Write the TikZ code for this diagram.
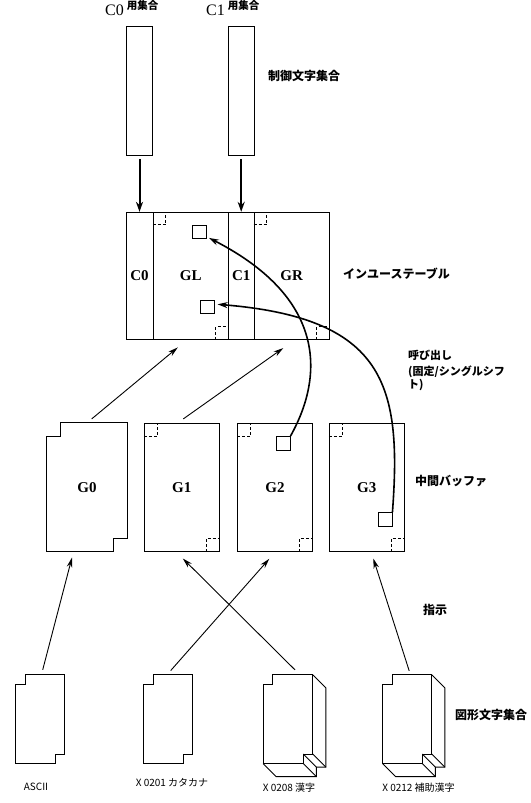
\documentclass[tikz,border=0pt]{standalone}
\usepackage{fontspec}
\setmainfont{Liberation Serif}
\newfontfamily\jp{Noto Sans CJK JP}
\usepackage{tikz}
\usetikzlibrary{arrows.meta, positioning}

% outline of a code table with cut corners
\newcommand{\notched}[2]{%
  \draw[line width=0.9pt] ([xshift=#2]#1.north west) -- (#1.north east) -- ([yshift=#2]#1.south east)
    -- ([shift={(-#2,#2)}]#1.south east) -- ([xshift=-#2]#1.south east)
    -- (#1.south west) -- ([yshift=-#2]#1.north west)
    -- ([shift={(#2,-#2)}]#1.north west) -- cycle;}
% depth of a 94x94 set
\newcommand{\extrude}[1]{%
  \draw[line width=0.9pt] (#1.north east) -- ++(13pt,-13pt)
    -- ([shift={(13pt,-3.5pt)}]#1.south east)
    -- ([shift={(3.5pt,-3.5pt)}]#1.south east)
    -- ([shift={(3.5pt,-13pt)}]#1.south east)
    -- ([shift={(13pt,-13pt)}]#1.south west) -- (#1.south west);
  \draw[line width=0.9pt] ([yshift=9.5pt]#1.south east) -- ++(13pt,-13pt);
  \draw[line width=0.9pt] ([shift={(-9.5pt,9.5pt)}]#1.south east) -- ++(13pt,-13pt);
  \draw[line width=0.9pt] ([xshift=-9.5pt]#1.south east) -- ++(13pt,-13pt);}
% dashed corners
\newcommand{\cornermarks}[2]{%
  \draw[cornermark] ([yshift=-#2]#1.north west) -| ([xshift=#2]#1.north west);
  \draw[cornermark] ([xshift=-#2]#1.south east) |- ([yshift=#2]#1.south east);}

\begin{document}
\begin{tikzpicture}[
    x=1pt, y=-1pt,
    every node/.style={inner sep=0pt},
    colbox/.style={draw, line width=0.9pt, minimum width=26.6pt, minimum height=129pt},
    cell/.style={draw, line width=0.9pt, minimum height=127pt, font=\fontsize{15}{15}\selectfont\bfseries},
    gbuf/.style={draw, line width=0.9pt, minimum width=75pt, minimum height=127.7pt, font=\fontsize{15}{15}\selectfont\bfseries},
    slot/.style={draw, line width=0.9pt, minimum width=14pt, minimum height=13.5pt},
    cset/.style={minimum width=48.5pt, minimum height=88.3pt},
    jlabel/.style={anchor=west, font=\jp\bfseries\fontsize{12}{12}\selectfont},
    setname/.style={font=\jp\fontsize{10}{10}\selectfont},
    cornermark/.style={dash pattern=on 3pt off 2pt, line width=0.8pt},
    arrow/.style={-{Stealth[length=10pt, width=5.5pt]}, line width=0.9pt},
    thickarrow/.style={-{Stealth[length=10pt, width=7pt]}, line width=2pt},
    callarrow/.style={-{Stealth[length=10pt, width=6pt]}, line width=1.6pt}
]
\useasboundingbox (0,0) rectangle (530,803);

% control sets
\node[anchor=base west] (c0set) at (105,16) {\fontsize{16}{16}\selectfont C0\hspace{3pt}\raisebox{6.5pt}{\jp\bfseries\fontsize{10.5}{10.5}\selectfont 用集合}};
\node[anchor=base west] (c1set) at (206,16) {\fontsize{16}{16}\selectfont C1\hspace{3pt}\raisebox{6.5pt}{\jp\bfseries\fontsize{10.5}{10.5}\selectfont 用集合}};
\node[colbox] (col0) at (139.5,90.5) {};
\node[colbox, minimum width=26pt] (col1) at (241.2,90.5) {};
\node[jlabel] (ctrl) at (268,76) {制御文字集合};

% in-use table
\node[cell, minimum width=27pt] (tc0) at (139.5,275.8) {C0};
\node[cell, minimum width=75pt] (tgl) at (190.8,275.8) {GL};
\node[cell, minimum width=25.8pt] (tc1) at (241.2,275.8) {C1};
\node[cell, minimum width=75.3pt] (tgr) at (291.7,275.8) {GR};
\cornermarks{tgl}{13pt}
\cornermarks{tgr}{13pt}
\node[slot] (sq1) at (199.5,231.7) {};
\node[slot] (sq2) at (207.7,306.7) {};
\node[jlabel] (inuse) at (343,274) {インユーステーブル};

\draw[thickarrow, shorten <=4pt] (col0) -- (tc0);
\draw[thickarrow, shorten <=4pt] (col1) -- (tc1);

% intermediate buffers
\node[gbuf, draw=none, minimum width=79.4pt] (G0) at (87,487.2) {G0};
\notched{G0}{13.5pt}
\node[gbuf] (G1) at (181.8,487.2) {G1};
\node[gbuf] (G2) at (275,487.2) {G2};
\node[gbuf] (G3) at (366.8,487.2) {G3};
\cornermarks{G1}{13.5pt}
\cornermarks{G2}{13.5pt}
\cornermarks{G3}{13.5pt}
\node[slot] (sq3) at (283,443.3) {};
\node[slot] (sq4) at (385,519.3) {};
\node[jlabel] (buffer) at (415,481) {中間バッファ};

\draw[arrow] ([shift={(4.7pt,4pt)}]G0.north) -- ([shift={(-13pt,-7.7pt)}]tgl.south);
\draw[arrow] ([shift={(1.5pt,4pt)}]G1.north) -- ([shift={(-8.4pt,-8.3pt)}]tgr.south);
\draw[callarrow] (sq3.north east) .. controls (322,380) and (330,300) .. ([shift={(2pt,1pt)}]sq1.south east);
\draw[callarrow] (sq4.north east) .. controls (402,385) and (385,318) .. ([shift={(2.4pt,2.4pt)}]sq2.east);
\node[jlabel, anchor=north west, align=left, font=\jp\bfseries\fontsize{11}{11}\selectfont] (invoke) at (408,349.5)
    {呼び出し\\[5.5pt](固定/シングルシフ\\ト)};

% graphic sets
\node[cset] (ascii) at (40.2,719.2) {};
\node[cset] (x0201) at (168.3,719.2) {};
\node[cset, minimum width=49.4pt] (x0208) at (288,719.2) {};
\node[cset, minimum width=49pt] (x0212) at (407.2,719.2) {};
\notched{ascii}{9.5pt}
\notched{x0201}{9.5pt}
\notched{x0208}{9.5pt}
\notched{x0212}{9.5pt}
\extrude{x0208}
\extrude{x0212}
\node[setname] (asciiname) at (36,786.7) {ASCII};
\node[setname] (x0201name) at (172,782.7) {X 0201 カタカナ};
\node[setname] (x0208name) at (289,788) {X 0208 漢字};
\node[setname] (x0212name) at (418.5,787.7) {X 0212 補助漢字};
\node[jlabel] (graphic) at (455,715) {図形文字集合};

\draw[arrow] ([shift={(2.5pt,5pt)}]ascii.north) -- ([shift={(-15pt,-6pt)}]G0.south);
\draw[arrow] ([shift={(2.4pt,4.3pt)}]x0201.north) -- ([shift={(-5.7pt,-7.3pt)}]G2.south);
\draw[arrow] ([shift={(7pt,5pt)}]x0208.north) -- ([shift={(1pt,-7pt)}]G1.south);
\draw[arrow] ([shift={(2pt,4pt)}]x0212.north) -- ([shift={(6.5pt,-7pt)}]G3.south);
\node[jlabel] (designate) at (423,610) {指示};

\end{tikzpicture}
\end{document}
